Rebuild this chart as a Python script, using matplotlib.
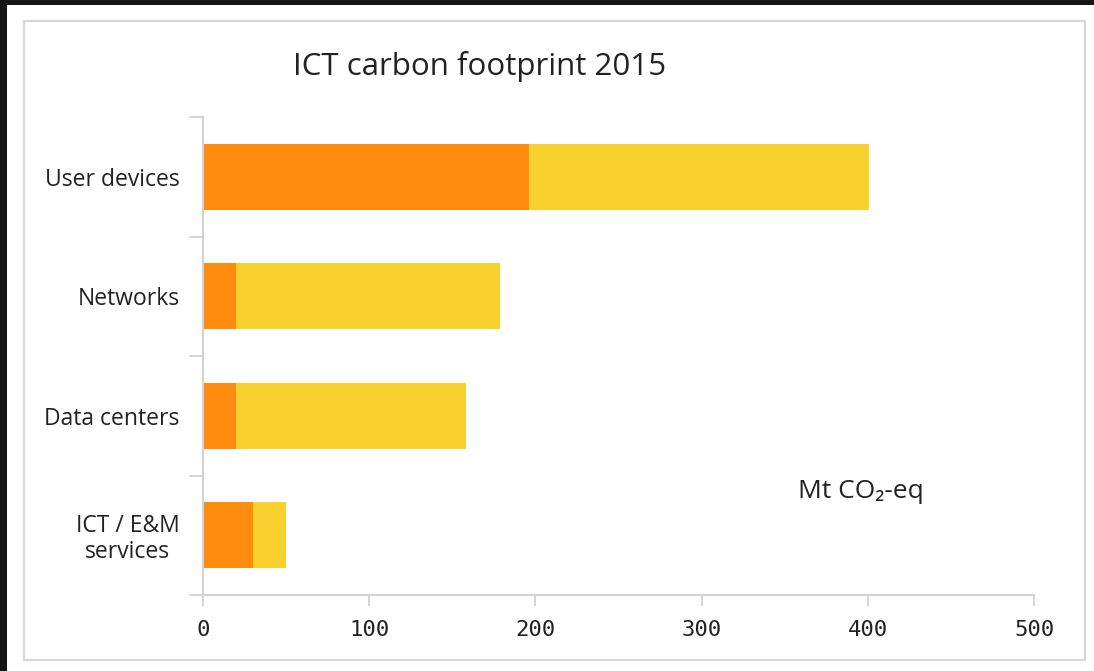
import matplotlib
matplotlib.use("Agg")
import matplotlib.pyplot as plt
from matplotlib.patches import Rectangle
from matplotlib.ticker import FixedLocator

categories = ["User devices", "Networks", "Data centers", "ICT / E&M\nservices"]
operational = [196, 20, 20, 30]      # orange segment
embodied = [205, 159, 138, 20]       # yellow segment, stacked on top
xticks = [0, 100, 200, 300, 400, 500]

ORANGE = "#FF8C0E"
YELLOW = "#F8D12E"
GRID = "#D2D2D2"
TEXT = "#222222"

W, H = 1094, 671
fig = plt.figure(figsize=(W / 100, H / 100), dpi=100)
fig.patch.set_facecolor("white")

# dark frame along the top and left edges
fig.patches.append(Rectangle((0, 1 - 5 / H), 1, 5 / H, transform=fig.transFigure,
                             facecolor="#151515", edgecolor="none", zorder=0))
fig.patches.append(Rectangle((0, 0), 7 / W, 1, transform=fig.transFigure,
                             facecolor="#151515", edgecolor="none", zorder=0))
# light panel border
fig.patches.append(Rectangle((24 / W, 1 - 660 / H), (1085 - 24) / W, (660 - 21) / H,
                             transform=fig.transFigure, facecolor="none",
                             edgecolor="#D8D8D8", linewidth=1.6, zorder=0))

ax = fig.add_axes([203 / W, 1 - 595 / H, (1034 - 203) / W, (595 - 117) / H])
ypos = list(range(len(categories)))
ax.barh(ypos, operational, height=0.55, color=ORANGE, edgecolor="none")
ax.barh(ypos, embodied, left=operational, height=0.55, color=YELLOW, edgecolor="none")

ax.set_xlim(0, 500)
ax.set_ylim(len(categories) - 0.5, -0.5)

for s in ["top", "right"]:
    ax.spines[s].set_visible(False)
for s in ["left", "bottom"]:
    ax.spines[s].set_color(GRID)
    ax.spines[s].set_linewidth(1.5)

ax.set_xticks(xticks)
ax.set_xticklabels([str(v) for v in xticks], family="DejaVu Sans Mono",
                   fontsize=16, color=TEXT)
ax.tick_params(axis="x", length=8, width=1.3, color=GRID, pad=10)

ax.set_yticks(ypos)
ax.set_yticklabels(categories, family="Open Sans", fontsize=16.5, color=TEXT,
                   linespacing=1.1)
ax.tick_params(axis="y", which="major", length=0, pad=17)
ax.yaxis.set_minor_locator(FixedLocator([i - 0.5 for i in range(len(categories) + 1)]))
ax.tick_params(axis="y", which="minor", length=10, width=1.3, color=GRID)
for t in ax.get_yticklabels():
    t.set_horizontalalignment("right")
    t.set_multialignment("center")

fig.text(480 / W, 1 - 67 / H, "ICT carbon footprint 2015", ha="center", va="center",
         family="Open Sans", fontsize=22.5, color=TEXT)
fig.text(861 / W, 1 - 492 / H, "Mt CO\u2082-eq", ha="center", va="center",
         family=["Open Sans", "DejaVu Sans"], fontsize=19, color=TEXT)

fig.savefig("out.png", dpi=100, facecolor="white")
